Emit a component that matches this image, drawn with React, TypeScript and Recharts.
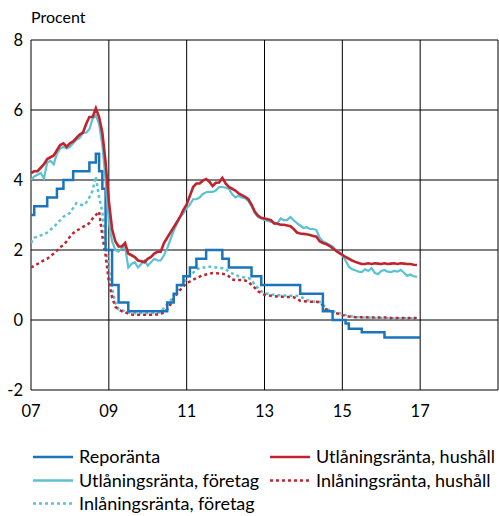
import React from "react";
import { LineChart, Line, XAxis, YAxis, CartesianGrid } from "recharts";

// Monthly observations, Jan 2007 – Dec 2016 (120 values)
const lendHouseholds = [
  4.2, 4.25, 4.25, 4.35, 4.45, 4.6, 4.65, 4.7, 4.85, 5.0, 5.05, 4.95,
  5.05, 5.1, 5.2, 5.3, 5.35, 5.6, 5.8, 5.8, 6.05, 5.8, 5.35, 4.5,
  3.4, 2.6, 2.25, 2.1, 2.1, 2.2, 1.9, 1.85, 1.8, 1.7, 1.68, 1.65,
  1.75, 1.8, 1.9, 1.95, 1.95, 2.2, 2.35, 2.5, 2.65, 2.8, 2.95, 3.15,
  3.3, 3.55, 3.8, 3.9, 3.9, 3.98, 4.03, 3.95, 3.83, 3.92, 3.93, 4.06,
  3.9, 3.8, 3.75, 3.7, 3.62, 3.57, 3.52, 3.45, 3.3, 3.1, 2.98, 2.92,
  2.9, 2.88, 2.85, 2.76, 2.75, 2.72, 2.72, 2.7, 2.68, 2.6, 2.5, 2.47,
  2.46, 2.45, 2.43, 2.4, 2.38, 2.25, 2.2, 2.17, 2.12, 2.05, 1.98, 1.92,
  1.86, 1.8, 1.75, 1.7, 1.66, 1.63, 1.6, 1.6, 1.62, 1.6, 1.62, 1.61,
  1.6, 1.62, 1.6, 1.61, 1.62, 1.6, 1.62, 1.61, 1.6, 1.6, 1.58, 1.57,
];

const lendCompanies = [
  4.0, 4.1, 4.15, 4.2, 4.05, 4.5, 4.55, 4.45, 4.75, 4.9, 4.95, 4.9,
  4.95, 5.05, 5.15, 5.2, 5.35, 5.35, 5.45, 5.75, 5.85, 5.6, 5.0, 4.0,
  2.8, 2.25, 2.0, 1.95, 2.05, 2.1, 1.5, 1.6, 1.65, 1.5, 1.6, 1.7,
  1.55, 1.65, 1.75, 1.7, 1.7, 1.85, 2.05, 2.3, 2.55, 2.75, 2.95, 3.05,
  3.2, 3.3, 3.45, 3.45, 3.5, 3.6, 3.65, 3.66, 3.66, 3.7, 3.8, 3.8,
  3.78, 3.75, 3.6, 3.5, 3.55, 3.5, 3.48, 3.4, 3.25, 3.05, 2.95, 2.9,
  2.86, 2.83, 2.8, 2.78, 2.77, 2.9, 2.85, 2.86, 2.94, 2.85, 2.77, 2.7,
  2.63, 2.65, 2.6, 2.6, 2.57, 2.35, 2.25, 2.2, 2.15, 2.1, 2.0, 1.92,
  1.86, 1.7, 1.52, 1.45, 1.42, 1.38, 1.37, 1.45, 1.4, 1.48, 1.35, 1.31,
  1.4, 1.43, 1.38, 1.37, 1.4, 1.38, 1.43, 1.35, 1.26, 1.3, 1.25, 1.23,
];

const depositHouseholds = [
  1.5, 1.55, 1.6, 1.65, 1.71, 1.75, 1.82, 1.9, 1.98, 2.08, 2.14, 2.25,
  2.38, 2.48, 2.55, 2.6, 2.66, 2.7, 2.77, 2.9, 3.0, 3.1, 2.4, 1.85,
  1.1, 0.65, 0.38, 0.3, 0.25, 0.22, 0.18, 0.16, 0.15, 0.15, 0.15, 0.15,
  0.15, 0.15, 0.16, 0.16, 0.17, 0.22, 0.3, 0.45, 0.6, 0.75, 0.86, 0.96,
  1.05, 1.1, 1.15, 1.2, 1.24, 1.28, 1.3, 1.32, 1.34, 1.34, 1.33, 1.32,
  1.3, 1.25, 1.16, 1.14, 1.14, 1.14, 1.13, 1.1, 1.0, 0.92, 0.82, 0.77,
  0.72, 0.7, 0.69, 0.68, 0.67, 0.67, 0.66, 0.66, 0.66, 0.65, 0.6, 0.55,
  0.54, 0.53, 0.52, 0.52, 0.52, 0.5, 0.42, 0.3, 0.27, 0.24, 0.2, 0.17,
  0.14, 0.12, 0.1, 0.09, 0.08, 0.08, 0.08, 0.08, 0.07, 0.07, 0.07, 0.07,
  0.07, 0.07, 0.07, 0.06, 0.06, 0.06, 0.06, 0.06, 0.06, 0.06, 0.06, 0.06,
];

const depositCompanies = [
  2.2, 2.35, 2.38, 2.42, 2.45, 2.5, 2.58, 2.66, 2.75, 2.85, 2.95, 3.0,
  3.06, 3.2, 3.34, 3.3, 3.28, 3.35, 3.5, 3.7, 4.1, 3.5, 3.1, 2.2,
  1.45, 0.9, 0.5, 0.3, 0.28, 0.25, 0.22, 0.2, 0.2, 0.19, 0.2, 0.2,
  0.19, 0.2, 0.2, 0.21, 0.22, 0.35, 0.45, 0.55, 0.7, 0.85, 0.95, 1.05,
  1.2, 1.28, 1.35, 1.45, 1.48, 1.5, 1.5, 1.52, 1.52, 1.5, 1.5, 1.48,
  1.45, 1.38, 1.33, 1.3, 1.25, 1.23, 1.21, 1.2, 1.15, 1.0, 0.92, 0.82,
  0.77, 0.75, 0.73, 0.72, 0.71, 0.71, 0.7, 0.7, 0.69, 0.69, 0.69, 0.68,
  0.62, 0.57, 0.55, 0.53, 0.52, 0.52, 0.45, 0.32, 0.29, 0.26, 0.22, 0.2,
  0.17, 0.14, 0.12, 0.1, 0.08, 0.08, 0.07, 0.07, 0.07, 0.06, 0.06, 0.06,
  0.06, 0.06, 0.05, 0.05, 0.05, 0.05, 0.05, 0.05, 0.05, 0.05, 0.05, 0.05,
];

// Repo rate, monthly Jan 2007 – Jan 2017 (121 values)
const repoRate = [
  3.0, 3.25, 3.25, 3.25, 3.25, 3.5, 3.5, 3.5, 3.75, 3.75, 4.0, 4.0,
  4.0, 4.25, 4.25, 4.25, 4.25, 4.25, 4.5, 4.5, 4.75, 4.25, 3.75, 2.0,
  2.0, 1.0, 1.0, 0.5, 0.5, 0.5, 0.25, 0.25, 0.25, 0.25, 0.25, 0.25,
  0.25, 0.25, 0.25, 0.25, 0.25, 0.25, 0.5, 0.5, 0.75, 1.0, 1.0, 1.25,
  1.25, 1.5, 1.5, 1.75, 1.75, 1.75, 2.0, 2.0, 2.0, 2.0, 2.0, 1.75,
  1.75, 1.5, 1.5, 1.5, 1.5, 1.5, 1.5, 1.5, 1.25, 1.25, 1.25, 1.0,
  1.0, 1.0, 1.0, 1.0, 1.0, 1.0, 1.0, 1.0, 1.0, 1.0, 1.0, 0.75,
  0.75, 0.75, 0.75, 0.75, 0.75, 0.75, 0.25, 0.25, 0.25, 0.0, 0.0, 0.0,
  0.0, -0.1, -0.25, -0.25, -0.25, -0.25, -0.35, -0.35, -0.35, -0.35, -0.35, -0.35,
  -0.35, -0.5, -0.5, -0.5, -0.5, -0.5, -0.5, -0.5, -0.5, -0.5, -0.5, -0.5,
  -0.5,
];

const startYear = 2007;
const xTicks = [2007, 2009, 2011, 2013, 2015, 2017, 2019];
const yTicks = [-2, 0, 2, 4, 6, 8];
const unitLabel = "Procent";

const seriesNames = {
  repo: "Reporänta",
  lendH: "Utlåningsränta, hushåll",
  lendC: "Utlåningsränta, företag",
  depH: "Inlåningsränta, hushåll",
  depC: "Inlåningsränta, företag",
};

const COLORS = {
  repo: "#1a75bc",
  red: "#c0242e",
  cyan: "#5bc2d2",
};

const data = repoRate.map((r, i) => ({
  x: startYear + i / 12,
  repo: r,
  lendH: i < lendHouseholds.length ? lendHouseholds[i] : null,
  lendC: i < lendCompanies.length ? lendCompanies[i] : null,
  depH: i < depositHouseholds.length ? depositHouseholds[i] : null,
  depC: i < depositCompanies.length ? depositCompanies[i] : null,
}));

const FONT = "Lato, 'Open Sans', sans-serif";

const legendItems = [
  { name: seriesNames.repo, color: COLORS.repo, dash: undefined, col: 0, row: 0 },
  { name: seriesNames.lendH, color: COLORS.red, dash: undefined, col: 1, row: 0 },
  { name: seriesNames.lendC, color: COLORS.cyan, dash: undefined, col: 0, row: 1 },
  { name: seriesNames.depH, color: COLORS.red, dash: "3 3", col: 1, row: 1 },
  { name: seriesNames.depC, color: COLORS.cyan, dash: "3 3", col: 0, row: 2 },
];

export default function App() {
  const colX = [33, 270];
  const rowY = [457, 480.5, 503.5];
  return (
    <div style={{ position: "absolute", left: 0, top: 0, width: 499, height: 516, background: "#fff", fontFamily: FONT, overflow: "hidden" }}>
      <LineChart
        width={499}
        height={420}
        data={data}
        margin={{ top: 40, right: 1, bottom: 0, left: 0 }}
        style={{ position: "absolute", left: 0, top: 0 }}
      >
        <CartesianGrid stroke="#000" strokeWidth={1} horizontal vertical />
        <XAxis
          type="number"
          dataKey="x"
          domain={[2007, 2019]}
          ticks={xTicks}
          interval={0}
          allowDataOverflow
          axisLine={false}
          tickLine={false}
          tickMargin={9}
          height={30}
          tick={{ fill: "#000", fontSize: 16.5, fontFamily: FONT }}
          tickFormatter={(v: number) => (v === 2019 ? "" : String(v).slice(2))}
        />
        <YAxis
          domain={[-2, 8]}
          ticks={yTicks}
          interval={0}
          width={31}
          axisLine={false}
          tickLine={false}
          tick={{ fill: "#000", fontSize: 16.5, fontFamily: FONT }}
          tickFormatter={(v: number) => String(v)}
        />
        <Line dataKey="depC" stroke={COLORS.cyan} strokeWidth={2.5} strokeDasharray="3 3" dot={false} isAnimationActive={false} />
        <Line dataKey="depH" stroke={COLORS.red} strokeWidth={2.5} strokeDasharray="3 3" dot={false} isAnimationActive={false} />
        <Line dataKey="repo" type="stepAfter" stroke={COLORS.repo} strokeWidth={2.5} dot={false} isAnimationActive={false} />
        <Line dataKey="lendC" stroke={COLORS.cyan} strokeWidth={2.2} dot={false} isAnimationActive={false} />
        <Line dataKey="lendH" stroke={COLORS.red} strokeWidth={2.6} dot={false} isAnimationActive={false} />
      </LineChart>
      <svg width={499} height={516} style={{ position: "absolute", left: 0, top: 0, pointerEvents: "none" }}>
        <text x={31} y={23} fontSize={16} fontFamily={FONT} fill="#000">{unitLabel}</text>
        {legendItems.map((it) => {
          const x = colX[it.col];
          const y = rowY[it.row];
          return (
            <g key={it.name}>
              <line x1={x} x2={x + 40} y1={y} y2={y} stroke={it.color} strokeWidth={2.5} strokeDasharray={it.dash} />
              <text x={x + 46} y={y} dy="0.36em" fontSize={18} fontFamily={FONT} fill="#000">{it.name}</text>
            </g>
          );
        })}
      </svg>
    </div>
  );
}
